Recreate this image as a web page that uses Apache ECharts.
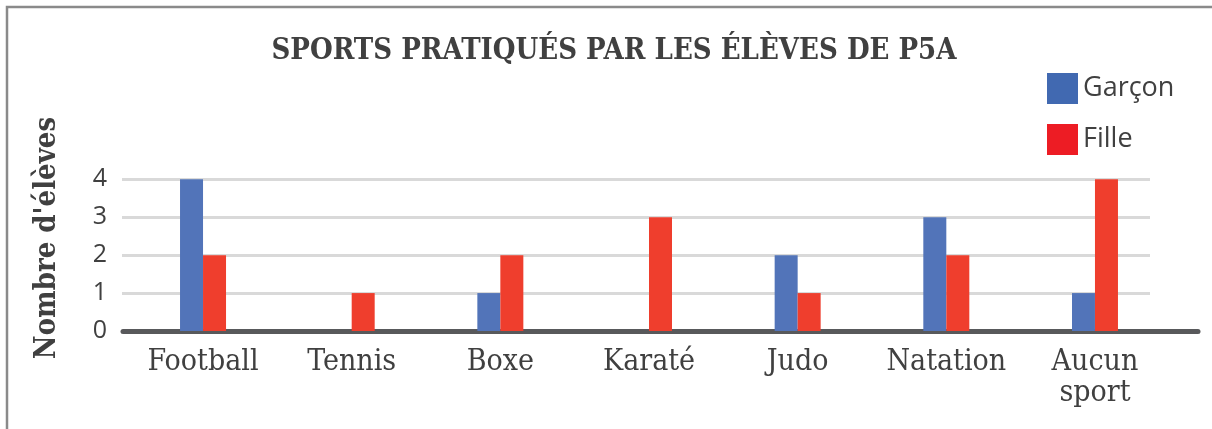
<!DOCTYPE html>
<html>
<head>
<meta charset="utf-8">
<script src="https://cdn.jsdelivr.net/npm/echarts@6/dist/echarts.min.js"></script>
<style>
  html, body { margin: 0; padding: 0; background: #fff; }
  #chart { width: 1212px; height: 429px; }
</style>
</head>
<body>
<div id="chart"></div>
<script>
// données du graphique
const categories = ['Football', 'Tennis', 'Boxe', 'Karaté', 'Judo', 'Natation', 'Aucun sport'];
const garcons = [4, 0, 1, 0, 2, 3, 1];
const filles = [2, 1, 2, 3, 1, 2, 4];
const yTicks = [0, 1, 2, 3, 4];

const slab = '"DejaVu Serif Condensed", "DejaVu Serif", serif';
const sans = '"Open Sans", "Noto Sans", sans-serif';
const ink = '#404040';

const myChart = echarts.init(document.getElementById('chart'));

const option = {
  backgroundColor: '#fff',
  animation: false,
  title: {
    text: 'SPORTS PRATIQUÉS PAR LES ÉLÈVES DE P5A',
    left: 609,
    top: 32,
    textAlign: 'center',
    textStyle: {
      fontFamily: slab,
      fontWeight: 'bold',
      fontSize: 29,
      color: ink,
    },
  },
  legend: {
    orient: 'vertical',
    left: 1042,
    top: 68,
    itemWidth: 31,
    itemHeight: 31,
    itemGap: 20,
    icon: 'rect',
    data: [
      { name: 'Garçon', itemStyle: { color: '#4169b1' } },
      { name: 'Fille', itemStyle: { color: '#ed1c24' } },
    ],
    textStyle: {
      fontFamily: sans,
      fontSize: 27,
      color: ink,
      padding: [0, 0, 4, 0],
    },
  },
  grid: [
    // barres
    { left: 128.7, right: 42.7, top: 179.3, bottom: 98 },
    // lignes de grille + graduations
    { left: 122, right: 62, top: 179.3, bottom: 98 },
    // ligne d'axe
    { left: 123, right: 14, top: 179.3, bottom: 98 },
  ],
  xAxis: [
    {
      gridIndex: 0,
      type: 'category',
      data: categories,
      axisLine: { show: false },
      axisTick: { show: false },
      axisLabel: {
        interval: 0,
        margin: 16,
        fontFamily: slab,
        fontSize: 30,
        lineHeight: 31,
        color: ink,
        formatter: (v) => v.replace(' ', '\n'),
      },
    },
    { gridIndex: 1, type: 'value', show: false },
    {
      gridIndex: 2,
      type: 'value',
      min: 0,
      max: 1,
      axisLine: { show: true, lineStyle: { color: '#58595b', width: 5, cap: 'round' } },
      axisTick: { show: false },
      axisLabel: { show: false },
      splitLine: { show: false },
    },
  ],
  yAxis: [
    { gridIndex: 0, type: 'value', min: 0, max: 4, interval: 1, show: false },
    {
      gridIndex: 1,
      type: 'value',
      min: yTicks[0],
      max: yTicks[yTicks.length - 1],
      interval: 1,
      axisLine: { show: false },
      axisTick: { show: false },
      axisLabel: {
        margin: 15,
        fontFamily: sans,
        fontSize: 25,
        color: ink,
      },
      splitLine: { lineStyle: { color: '#d9d9d9', width: 3 } },
    },
    { gridIndex: 2, type: 'value', show: false },
  ],
  graphic: [
    {
      type: 'rect',
      silent: true,
      shape: { x: 7, y: 7, width: 1300, height: 500 },
      style: { fill: 'none', stroke: '#8a8a8a', lineWidth: 2.5 },
    },
    {
      type: 'text',
      x: 47,
      y: 238,
      rotation: Math.PI / 2,
      style: {
        text: "Nombre d'élèves",
        fontFamily: slab,
        fontWeight: 'bold',
        fontSize: 29,
        fill: ink,
        align: 'center',
        verticalAlign: 'middle',
      },
    },
  ],
  series: [
    {
      name: 'Garçon',
      type: 'bar',
      xAxisIndex: 0,
      yAxisIndex: 0,
      data: garcons,
      barWidth: 23,
      barGap: '0%',
      itemStyle: { color: '#5274b9' },
    },
    {
      name: 'Fille',
      type: 'bar',
      xAxisIndex: 0,
      yAxisIndex: 0,
      data: filles,
      barWidth: 23,
      barGap: '0%',
      itemStyle: { color: '#ef3e2d' },
    },
  ],
};

myChart.setOption(option);
window.addEventListener('resize', () => {
  myChart.resize();
});
</script>
</body>
</html>
